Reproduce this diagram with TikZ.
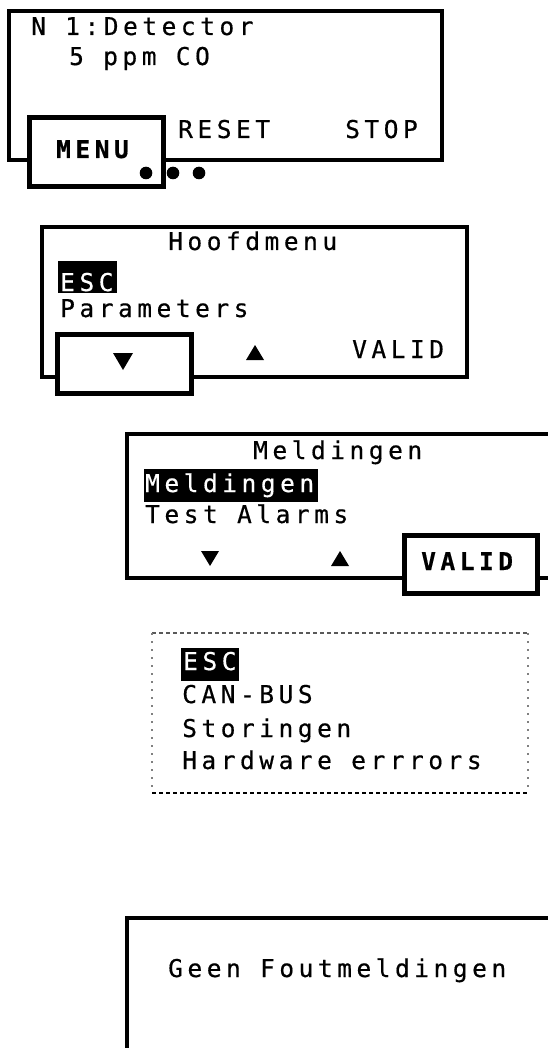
\documentclass[tikz,border=0pt]{standalone}
\usepackage{fontspec}
\newfontfamily\lcdfont[LetterSpace=18.5,FakeBold=0.5,BoldFont={DejaVu Sans Mono Bold},BoldFeatures={FakeBold=0.4}]{DejaVu Sans Mono}
\begin{document}
\begin{tikzpicture}[x=1pt,y=-1pt,
  panel/.style={line width=3.2pt},
  btn/.style={draw, fill=white, line width=5pt},
  txt/.style={inner sep=0pt, anchor=base west, font=\lcdfont\fontsize{24.5}{29}\selectfont},
  btxt/.style={txt, font=\lcdfont\bfseries\fontsize{24.5}{29}\selectfont},
  wtxt/.style={txt, text=white},
  hl/.style={fill=black},
  tri/.style={fill=black}]
\useasboundingbox (0,0) rectangle (548,1048);
\clip (0,0) rectangle (548,1048);

% ---------- panel 1 ----------
\draw[panel] (9,11) rectangle (442,160);
\draw[btn] (29,118) rectangle (163,187);
\node[txt] (p1a) at (31,35) {N 1:Detector};
\node[txt] (p1b) at (69,65) {5 ppm CO};
\node[txt] (p1reset) at (178,138) {RESET};
\node[txt] (p1stop) at (345,138) {STOP};
\node[btxt] (p1menu) at (56,158) {MENU};
\fill (146,173) circle (6.3pt);
\fill (173,173) circle (6.3pt);
\fill (199,173) circle (6.3pt);

% ---------- panel 2 ----------
\draw[panel] (42,227) rectangle (467,377);
\draw[btn] (57,334) rectangle (191,393);
\node[txt] (p2title) at (168,250) {Hoofdmenu};
\fill[hl] (58,261) rectangle (117,293);
\node[wtxt] (p2esc) at (60,291) {ESC};
\node[txt] (p2par) at (60,317) {Parameters};
\node[txt] (p2valid) at (352,358) {VALID};
\fill[tri] (113,353) -- (133,353) -- (123,370) -- cycle;
\fill[tri] (246,360) -- (264,360) -- (255,345) -- cycle;

% ---------- panel 3 ----------
\draw[panel] (127,434) rectangle (570,578);
\draw[btn] (404,535) rectangle (537,593);
\node[txt] (p3title) at (253,459) {Meldingen};
\fill[hl] (144,469) rectangle (318,502);
\node[wtxt] (p3sel) at (145,492) {Meldingen};
\node[txt] (p3test) at (145,523) {Test Alarms};
\fill[tri] (201,551) -- (219,551) -- (210,566) -- cycle;
\fill[tri] (331,566) -- (349,566) -- (340,551) -- cycle;
\node[btxt] (p3valid) at (421,570) {VALID};

% ---------- panel 4 (dotted list) ----------
\draw[line width=1.2pt, gray!70!black, dash pattern=on 4pt off 3pt] (152,633) -- (528,633);
\draw[line width=1.6pt, black, dash pattern=on 4pt off 3pt] (152,793) -- (528,793);
\draw[line width=1.4pt, gray, dash pattern=on 1.5pt off 6.5pt] (152,633) -- (152,793);
\draw[line width=1.4pt, gray, dash pattern=on 1.5pt off 6.5pt] (528,633) -- (528,793);
\fill[hl] (181,648) rectangle (239,681);
\node[wtxt] (p4esc) at (183,670) {ESC};
\node[txt] (p4can) at (182,703) {CAN-BUS};
\node[txt] (p4sto) at (182,737) {Storingen};
\node[txt] (p4hw) at (182,769) {Hardware errrors};

% ---------- panel 5 ----------
\draw[panel] (127,1060) -- (127,918) -- (570,918);
\node[txt] (p5) at (168,977) {Geen Foutmeldingen};
\end{tikzpicture}
\end{document}
